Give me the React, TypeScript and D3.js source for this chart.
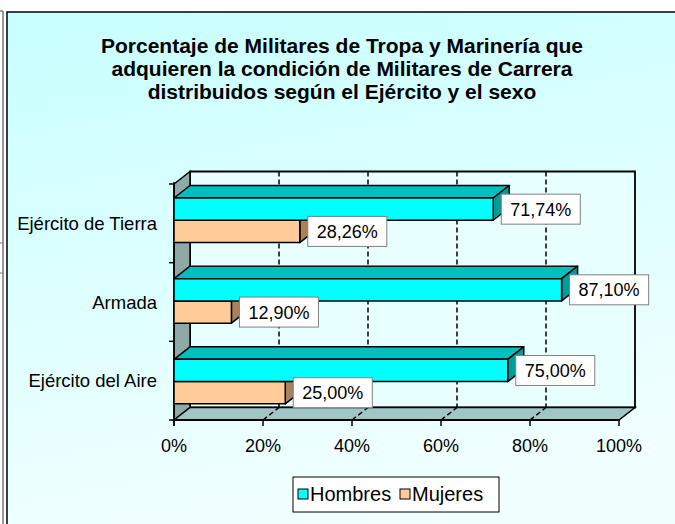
import React from 'react';
import * as d3 from 'd3';

const categories = ['Ejército de Tierra', 'Armada', 'Ejército del Aire'];
const seriesNames = ['Hombres', 'Mujeres'];
const hombres = [71.74, 87.1, 75.0];
const mujeres = [28.26, 12.9, 25.0];
const xTicks = [0, 20, 40, 60, 80, 100];
const titleLines = [
  'Porcentaje de Militares de Tropa y Marinería que',
  'adquieren la condición de Militares de Carrera',
  'distribuidos según el Ejército y el sexo',
];

const W = 675;
const H = 524;
const DX = 16;
const DY = 12.5;
const FONT = 'Arial, "Liberation Sans", sans-serif';
const plotTop = 184;
const plotBottom = 420;

const colors = {
  Hombres: { front: '#00FFFF', top: '#00BFBF', side: '#009C9C' },
  Mujeres: { front: '#FFCC99', top: '#C09A73', side: '#A8825C' },
};

const x = d3.scaleLinear().domain([0, 100]).range([174, 619]);
const yAxis = d3.scaleBand().domain(categories).range([plotTop, plotBottom]);
const y = d3
  .scaleBand()
  .domain(categories)
  .range([182, 424])
  .paddingInner(0.448)
  .paddingOuter(0.224)
  .align(0.443);
const sub = d3.scaleBand().domain(seriesNames).range([0, y.bandwidth()]);

const fmt = (v: number) => v.toFixed(2).replace('.', ',') + '%';

let ctx: CanvasRenderingContext2D | null = null;
function measure(t: string, font: string) {
  if (!ctx) ctx = document.createElement('canvas').getContext('2d');
  if (!ctx) return t.length * 9;
  ctx.font = font;
  return ctx.measureText(t).width;
}

function Bar({ cat, s, v }: { cat: string; s: string; v: number }) {
  const c = (colors as any)[s];
  const x0 = x(0);
  const x1 = x(v);
  const y0 = (y(cat) as number) + (sub(s) as number);
  const y1 = y0 + sub.bandwidth();
  const pts = (a: number[][]) => a.map((p) => p.join(',')).join(' ');
  return (
    <g stroke="#000" strokeWidth={1.5} strokeLinejoin="round">
      <polygon points={pts([[x0, y0], [x0 + DX, y0 - DY], [x1 + DX, y0 - DY], [x1, y0]])} fill={c.top} />
      <polygon points={pts([[x1, y0], [x1 + DX, y0 - DY], [x1 + DX, y1 - DY], [x1, y1]])} fill={c.side} />
      <rect x={x0} y={y0} width={x1 - x0} height={y1 - y0} fill={c.front} />
    </g>
  );
}

function Label({ cat, s, v }: { cat: string; s: string; v: number }) {
  const t = fmt(v);
  const tw = measure(t, `18px Arial, "Liberation Sans", sans-serif`);
  const bx = x(v) + DX / 2;
  const cy = (y(cat) as number) + (sub(s) as number) + sub.bandwidth() / 2;
  const bw = tw + 18;
  const bh = 30;
  return (
    <g>
      <rect x={bx} y={cy - bh / 2} width={bw} height={bh} fill="#fff" stroke="#808080" strokeWidth={1} />
      <text x={bx + bw / 2} y={cy + 6.5} textAnchor="middle" fontSize={18} fontFamily={FONT} fill="#000">
        {t}
      </text>
    </g>
  );
}

export default function App() {
  const step = yAxis.step();
  const boundaries = categories.map((c) => yAxis(c) as number).concat([plotBottom]);
  const bx0 = x(0) + DX;
  const bx1 = x(100) + DX;
  const bTop = plotTop - DY;
  const bBot = plotBottom - DY;
  const pts = (a: number[][]) => a.map((p) => p.join(',')).join(' ');

  return (
    <svg width={W} height={H} style={{ position: 'absolute', left: 0, top: 0 }} fontFamily={FONT}>
      <defs>
        <linearGradient id="bg" x1="0" y1="0" x2="0.25" y2="1">
          <stop offset="0" stopColor="#C8FFFF" />
          <stop offset="1" stopColor="#F2FFFF" />
        </linearGradient>
      </defs>
      <rect x={0} y={0} width={W} height={H} fill="#fff" />
      <line x1={3} y1={11} x2={3} y2={H} stroke="#555" strokeWidth={1.2} />
      <line x1={0} y1={11} x2={3} y2={11} stroke="#555" strokeWidth={1} />
      <line x1={0} y1={243} x2={3} y2={243} stroke="#777" strokeWidth={1} />
      <line x1={0} y1={273} x2={3} y2={273} stroke="#777" strokeWidth={1} />
      <rect x={7} y={12} width={W + 10} height={H + 10} fill="url(#bg)" stroke="#000" strokeWidth={1.5} />

      {/* title */}
      {titleLines.map((t, i) => (
        <text key={i} x={342} y={53 + i * 23} textAnchor="middle" fontWeight="bold" fontSize={21} fill="#000">
          {t}
        </text>
      ))}

      {/* walls */}
      <polygon points={pts([[bx0, bTop], [bx1, bTop], [bx1, bBot], [bx0, bBot]])} fill="#E8FFFF" stroke="#000" strokeWidth={1.8} />
      <polygon points={pts([[x(0), plotTop], [bx0, bTop], [bx0, bBot], [x(0), plotBottom]])} fill="#8FA9A9" stroke="#000" strokeWidth={1.5} />
      <polygon points={pts([[x(0), plotBottom], [bx0, bBot], [bx1, bBot], [x(100), plotBottom]])} fill="#A0C6C6" stroke="#000" strokeWidth={1.5} />

      {/* gridlines */}
      {xTicks.filter((t) => t > 0 && t < 100).map((t) => (
        <g key={t} stroke="#000" strokeWidth={1.5} strokeDasharray="5,3">
          <line x1={x(t) + DX} y1={bTop} x2={x(t) + DX} y2={bBot} />
          <line x1={x(t)} y1={plotBottom} x2={x(t) + DX} y2={bBot} />
        </g>
      ))}

      {/* axes */}
      <line x1={x(0)} y1={plotTop - 2} x2={x(0)} y2={plotBottom + 6} stroke="#000" strokeWidth={1.5} />
      <line x1={x(0)} y1={plotBottom} x2={x(100)} y2={plotBottom} stroke="#000" strokeWidth={2} />
      {boundaries.map((b, i) => (
        <line key={i} x1={x(0) - 5} y1={b} x2={x(0)} y2={b} stroke="#000" strokeWidth={1.5} />
      ))}
      {xTicks.map((t) => (
        <g key={t}>
          <line x1={x(t)} y1={plotBottom} x2={x(t)} y2={plotBottom + 6} stroke="#000" strokeWidth={1.5} />
          <text x={x(t)} y={452} textAnchor="middle" fontSize={18} fill="#000">
            {t}%
          </text>
        </g>
      ))}
      {categories.map((c) => (
        <text key={c} x={157} y={(yAxis(c) as number) + step / 2 + 6.5} textAnchor="end" fontSize={18.5} fill="#000">
          {c}
        </text>
      ))}

      {/* bars */}
      {categories.map((c, i) => (
        <g key={c}>
          <Bar cat={c} s="Mujeres" v={mujeres[i]} />
          <Bar cat={c} s="Hombres" v={hombres[i]} />
        </g>
      ))}
      {categories.map((c, i) => (
        <g key={c}>
          <Label cat={c} s="Hombres" v={hombres[i]} />
          <Label cat={c} s="Mujeres" v={mujeres[i]} />
        </g>
      ))}

      {/* legend */}
      <rect x={293} y={477} width={206} height={35} fill="#fff" stroke="#000" strokeWidth={1} />
      {seriesNames.map((s, i) => {
        const lx = i === 0 ? 298 : 400;
        return (
          <g key={s}>
            <rect x={lx} y={489} width={10} height={10} fill={(colors as any)[s].front} stroke="#000" strokeWidth={1} />
            <text x={lx + 12} y={501} fontSize={20} fill="#000">
              {s}
            </text>
          </g>
        );
      })}
    </svg>
  );
}
